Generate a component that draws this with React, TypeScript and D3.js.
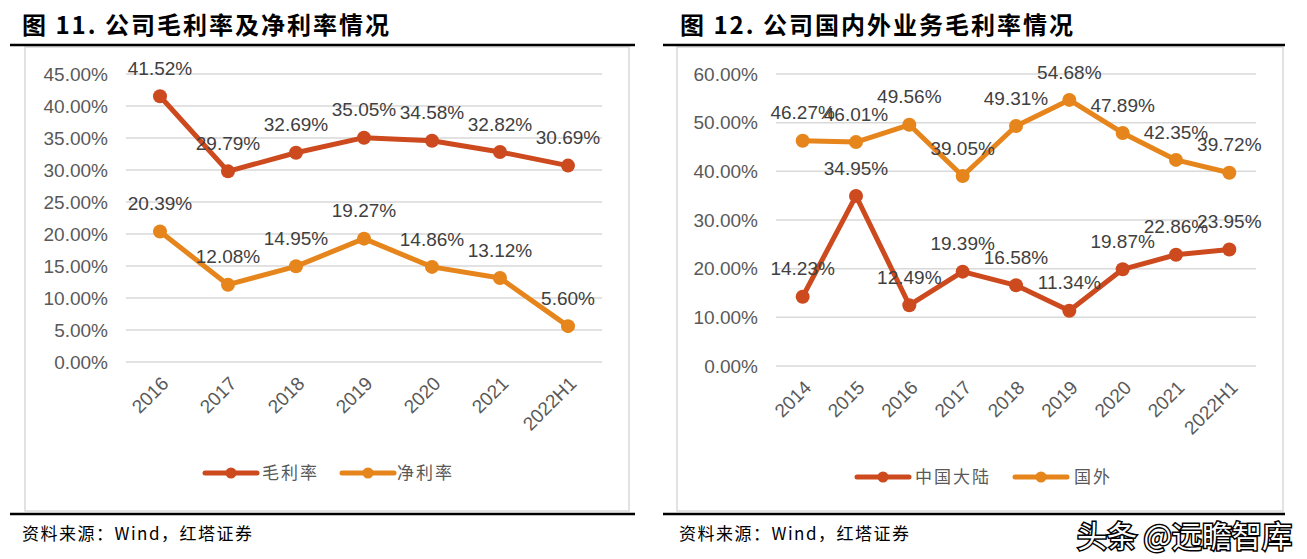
import React from "react";
import * as d3 from "d3";

const leftCats = ["2016", "2017", "2018", "2019", "2020", "2021", "2022H1"];
const grossMargin = [41.52, 29.79, 32.69, 35.05, 34.58, 32.82, 30.69];
const netMargin = [20.39, 12.08, 14.95, 19.27, 14.86, 13.12, 5.6];
const leftTicks = [0, 5, 10, 15, 20, 25, 30, 35, 40, 45];

const rightCats = ["2014", "2015", "2016", "2017", "2018", "2019", "2020", "2021", "2022H1"];
const mainland = [14.23, 34.95, 12.49, 19.39, 16.58, 11.34, 19.87, 22.86, 23.95];
const overseas = [46.27, 46.01, 49.56, 39.05, 49.31, 54.68, 47.89, 42.35, 39.72];
const rightTicks = [0, 10, 20, 30, 40, 50, 60];

const RED = "#CC4A1E";
const ORANGE = "#E5851B";
const GRID = "#D9D9D9";
const NUM_FONT = "'Liberation Sans', Arial, sans-serif";
const CJK_FONT = "'Noto Sans CJK SC', 'Liberation Sans', sans-serif";

type Series = { name: string; values: number[]; color: string };

function Chart(props: {
  cats: string[];
  series: Series[];
  ticks: number[];
  xRange: [number, number];
  yRange: [number, number];
  yMax: number;
  legendLines: number[];
  legendTexts: number[];
  legendY: number;
}) {
  const { cats, series, ticks, xRange, yRange, yMax, legendLines, legendTexts, legendY } = props;
  const x = d3.scaleBand<string>().domain(cats).range(xRange);
  const y = d3.scaleLinear().domain([0, yMax]).range(yRange);
  const cx = (c: string) => (x(c) as number) + x.bandwidth() / 2;
  const line = d3
    .line<number>()
    .x((_, i) => cx(cats[i]))
    .y((d) => y(d));
  const fmt = (v: number) => v.toFixed(2) + "%";
  return (
    <g>
      {ticks.map((t) => (
        <g key={t}>
          <line x1={xRange[0]} x2={xRange[1]} y1={y(t)} y2={y(t)} stroke={GRID} strokeWidth={1.5} />
          <text
            x={xRange[0] - 18}
            y={y(t)}
            dy="0.35em"
            textAnchor="end"
            fontFamily={NUM_FONT}
            fontSize={19}
            fill="#595959"
          >
            {fmt(t)}
          </text>
        </g>
      ))}
      {cats.map((c) => (
        <text
          key={c}
          transform={`translate(${cx(c) + 5},${yRange[0] + 18}) rotate(-45)`}
          textAnchor="end"
          dy="0.35em"
          fontFamily={NUM_FONT}
          fontSize={19}
          fill="#595959"
        >
          {c}
        </text>
      ))}
      {series.map((s) => (
        <g key={s.name}>
          <path d={line(s.values) || ""} fill="none" stroke={s.color} strokeWidth={5} strokeLinejoin="round" />
          {s.values.map((v, i) => (
            <circle key={i} cx={cx(cats[i])} cy={y(v)} r={7} fill={s.color} />
          ))}
        </g>
      ))}
      {series.map((s) =>
        s.values.map((v, i) => (
          <text
            key={s.name + i}
            x={cx(cats[i])}
            y={y(v) - 28}
            dy="0.35em"
            textAnchor="middle"
            fontFamily={NUM_FONT}
            fontSize={19}
            fill="#404040"
          >
            {fmt(v)}
          </text>
        ))
      )}
      {series.map((s, i) => (
        <g key={"lg" + s.name}>
          <line
            x1={legendLines[i]}
            x2={legendLines[i] + 52}
            y1={legendY}
            y2={legendY}
            stroke={s.color}
            strokeWidth={5}
            strokeLinecap="round"
          />
          <circle cx={legendLines[i] + 26} cy={legendY} r={5.5} fill={s.color} />
          <text
            x={legendTexts[i]}
            y={legendY}
            dy="0.35em"
            fontFamily={CJK_FONT}
            fontSize={17}
            letterSpacing={2}
            fill="#595959"
          >
            {s.name}
          </text>
        </g>
      ))}
    </g>
  );
}

export default function App() {
  return (
    <svg
      width={1307}
      height={559}
      style={{ position: "absolute", left: 0, top: 0, background: "#fff" }}
    >
      <rect x={0} y={0} width={1307} height={559} fill="#fff" />
      {/* Left panel */}
      <text x={22} y={34} fontFamily={CJK_FONT} fontWeight={700} fontSize={24} letterSpacing={2} fill="#000">
        图 11. 公司毛利率及净利率情况
      </text>
      <rect x={25} y={47} width={604} height={464} fill="none" stroke={GRID} strokeWidth={1.5} />
      <line x1={10} x2={635} y1={45} y2={45} stroke="#000" strokeWidth={2.5} />
      <line x1={10} x2={635} y1={514} y2={514} stroke="#000" strokeWidth={2.5} />
      <text x={22} y={540} fontFamily={CJK_FONT} fontSize={17} letterSpacing={1.5} fill="#000">
        资料来源：Wind，红塔证券
      </text>
      <Chart
        cats={leftCats}
        series={[
          { name: "毛利率", values: grossMargin, color: RED },
          { name: "净利率", values: netMargin, color: ORANGE },
        ]}
        ticks={leftTicks}
        xRange={[126, 602]}
        yRange={[362, 74]}
        yMax={45}
        legendLines={[205, 342]}
        legendTexts={[262, 397]}
        legendY={473}
      />
      {/* Right panel */}
      <text x={680} y={34} fontFamily={CJK_FONT} fontWeight={700} fontSize={24} letterSpacing={2} fill="#000">
        图 12. 公司国内外业务毛利率情况
      </text>
      <rect x={677} y={47} width={606} height={464} fill="none" stroke={GRID} strokeWidth={1.5} />
      <line x1={663} x2={1285} y1={45} y2={45} stroke="#000" strokeWidth={2.5} />
      <line x1={663} x2={1285} y1={514} y2={514} stroke="#000" strokeWidth={2.5} />
      <text x={679} y={540} fontFamily={CJK_FONT} fontSize={17} letterSpacing={1.5} fill="#000">
        资料来源：Wind，红塔证券
      </text>
      <Chart
        cats={rightCats}
        series={[
          { name: "中国大陆", values: mainland, color: RED },
          { name: "国外", values: overseas, color: ORANGE },
        ]}
        ticks={rightTicks}
        xRange={[776, 1256]}
        yRange={[366, 74]}
        yMax={60}
        legendLines={[857, 1015]}
        legendTexts={[915, 1074]}
        legendY={477}
      />
      <text
        x={1292}
        y={547}
        textAnchor="end"
        fontFamily={CJK_FONT}
        fontSize={30}
        fill="#fff"
        stroke="#000"
        strokeWidth={3}
        paintOrder="stroke"
      >
        头条 @远瞻智库
      </text>
    </svg>
  );
}
